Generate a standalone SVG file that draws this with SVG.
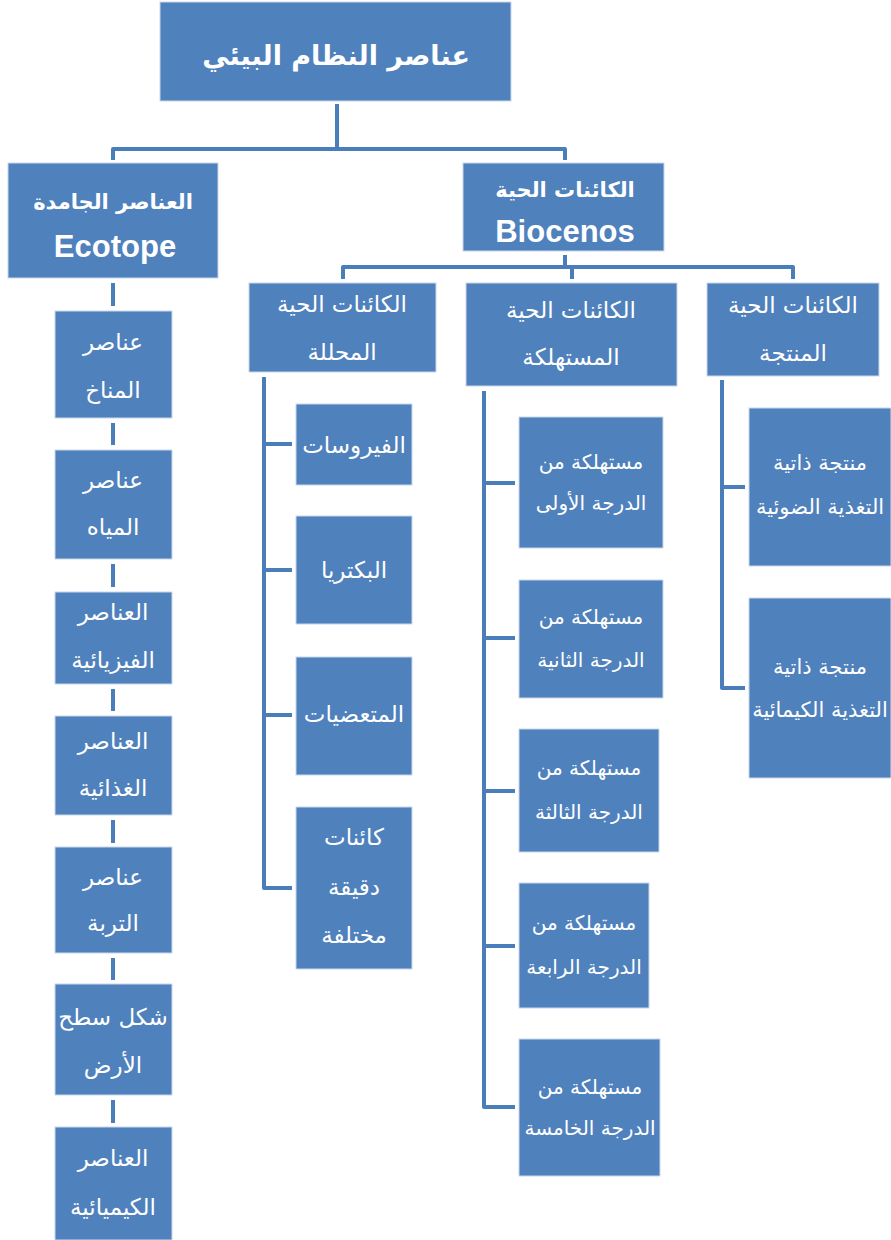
<svg xmlns="http://www.w3.org/2000/svg" width="891" height="1240" viewBox="0 0 891 1240">
<style>
.box{fill:#4F81BD;stroke:#C9D8EC;stroke-width:1}
.t{font-family:"DejaVu Sans","Liberation Sans",sans-serif;fill:#FFFFFF;text-anchor:middle;dominant-baseline:central}
.lat{font-family:"Liberation Sans","DejaVu Sans",sans-serif;font-weight:bold;font-size:31px}
.b{font-weight:bold}
.h1{font-size:27px}
.h2{font-size:21px}
.l2{font-size:23px}
.le{font-size:23px}
.ld{font-size:23px}
.lc{font-size:20px}
.lp{font-size:21px}
.conn{stroke:#4A7EBB;stroke-width:4;fill:none;stroke-linejoin:round}
</style>
<rect width="891" height="1240" fill="#FFFFFF"/>
<g id="connectors">
<path class="conn" d="M337,104 V149"/>
<path class="conn" d="M113,160 V149 H565 V160"/>
<path class="conn" d="M565,255 V267"/>
<path class="conn" d="M343,279 V267 H793 V279"/>
<path class="conn" d="M572,267 V279"/>
<path class="conn" d="M113,283 V306 M113,423 V445 M113,564 V587 M113,689 V711 M113,820 V843 M113,958 V980 M113,1100 V1123"/>
<path class="conn" d="M264,377 V888 H292 M264,444 H292 M264,570 H292 M264,715 H292"/>
<path class="conn" d="M484,391 V1107 H515 M484,483 H515 M484,638 H515 M484,791 H515 M484,946 H515"/>
<path class="conn" d="M722,380 V688 H745 M722,487 H745"/>
</g>
<g id="root">
<rect class="box" x="160" y="2" width="351" height="99"/>
<text class="t b h1" x="336" y="55">عناصر النظام البيئي</text>
</g>
<g id="ecotope">
<rect class="box" x="8" y="163" width="210" height="115"/>
<text class="t b h2" x="113" y="202">العناصر الجامدة</text>
<text class="t lat" x="115" y="246">Ecotope</text>
</g>
<g id="biocenos">
<rect class="box" x="463" y="163" width="201" height="88"/>
<text class="t b h2" x="565" y="190">الكائنات الحية</text>
<text class="t lat" x="565" y="231">Biocenos</text>
</g>
<g id="decomposers">
<rect class="box" x="249" y="283" width="187" height="89"/>
<text class="t l2" x="342" y="304">الكائنات الحية</text>
<text class="t l2" x="342" y="352">المحللة</text>
</g>
<g id="consumers">
<rect class="box" x="466" y="283" width="211" height="103"/>
<text class="t l2" x="571" y="310">الكائنات الحية</text>
<text class="t l2" x="571" y="357">المستهلكة</text>
</g>
<g id="producers">
<rect class="box" x="707" y="283" width="172" height="93"/>
<text class="t l2" x="793" y="305">الكائنات الحية</text>
<text class="t l2" x="793" y="353">المنتجة</text>
</g>
<g id="eco1">
<rect class="box" x="55" y="311" width="117" height="107"/>
<text class="t le" x="113" y="342">عناصر</text>
<text class="t le" x="113" y="390">المناخ</text>
</g>
<g id="eco2">
<rect class="box" x="55" y="450" width="117" height="109"/>
<text class="t le" x="113" y="480">عناصر</text>
<text class="t le" x="113" y="527">المياه</text>
</g>
<g id="eco3">
<rect class="box" x="55" y="592" width="117" height="92"/>
<text class="t le" x="113" y="612">العناصر</text>
<text class="t le" x="113" y="660">الفيزيائية</text>
</g>
<g id="eco4">
<rect class="box" x="55" y="716" width="117" height="99"/>
<text class="t le" x="113" y="741">العناصر</text>
<text class="t le" x="113" y="788">الغذائية</text>
</g>
<g id="eco5">
<rect class="box" x="55" y="847" width="117" height="106"/>
<text class="t le" x="113" y="877">عناصر</text>
<text class="t le" x="113" y="923">التربة</text>
</g>
<g id="eco6">
<rect class="box" x="55" y="984" width="117" height="111"/>
<text class="t le" x="113" y="1017">شكل سطح</text>
<text class="t le" x="113" y="1065">الأرض</text>
</g>
<g id="eco7">
<rect class="box" x="55" y="1127" width="117" height="113"/>
<text class="t le" x="113" y="1158">العناصر</text>
<text class="t le" x="113" y="1207">الكيميائية</text>
</g>
<g id="dec1">
<rect class="box" x="296" y="404" width="116" height="81"/>
<text class="t ld" x="354" y="445">الفيروسات</text>
</g>
<g id="dec2">
<rect class="box" x="296" y="516" width="116" height="108"/>
<text class="t ld" x="354" y="570">البكتريا</text>
</g>
<g id="dec3">
<rect class="box" x="296" y="657" width="116" height="118"/>
<text class="t ld" x="354" y="714">المتعضيات</text>
</g>
<g id="dec4">
<rect class="box" x="296" y="807" width="116" height="162"/>
<text class="t ld" x="354" y="837">كائنات</text>
<text class="t ld" x="354" y="887">دقيقة</text>
<text class="t ld" x="354" y="935">مختلفة</text>
</g>
<g id="con1">
<rect class="box" x="519" y="417" width="144" height="131"/>
<text class="t lc" x="591" y="462">مستهلكة من</text>
<text class="t lc" x="591" y="503">الدرجة الأولى</text>
</g>
<g id="con2">
<rect class="box" x="519" y="580" width="144" height="118"/>
<text class="t lc" x="591" y="617">مستهلكة من</text>
<text class="t lc" x="591" y="660">الدرجة الثانية</text>
</g>
<g id="con3">
<rect class="box" x="519" y="729" width="140" height="123"/>
<text class="t lc" x="589" y="768">مستهلكة من</text>
<text class="t lc" x="589" y="812">الدرجة الثالثة</text>
</g>
<g id="con4">
<rect class="box" x="519" y="883" width="130" height="125"/>
<text class="t lc" x="584" y="923">مستهلكة من</text>
<text class="t lc" x="584" y="967">الدرجة الرابعة</text>
</g>
<g id="con5">
<rect class="box" x="519" y="1039" width="141" height="137"/>
<text class="t lc" x="590" y="1087">مستهلكة من</text>
<text class="t lc" x="590" y="1128">الدرجة الخامسة</text>
</g>
<g id="pro1">
<rect class="box" x="749" y="408" width="142" height="158"/>
<text class="t lp" x="820" y="463">منتجة ذاتية</text>
<text class="t lp" x="820" y="507">التغذية الضوئية</text>
</g>
<g id="pro2">
<rect class="box" x="749" y="598" width="142" height="180"/>
<text class="t lp" x="820" y="667">منتجة ذاتية</text>
<text class="t lp" x="820" y="710">التغذية الكيمائية</text>
</g>
</svg>
